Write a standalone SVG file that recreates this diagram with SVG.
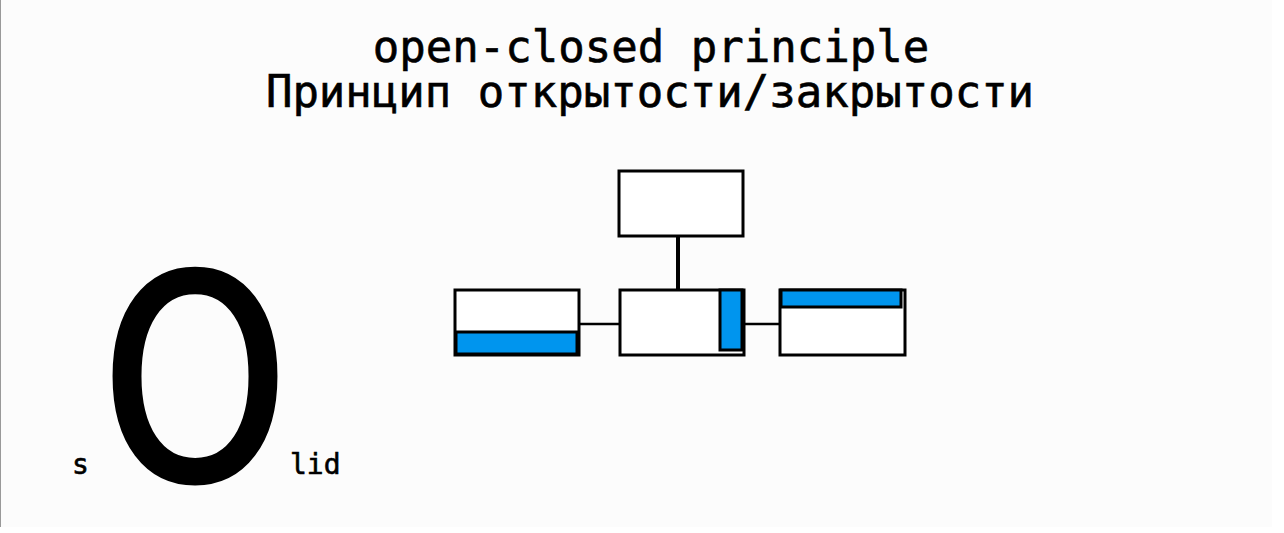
<svg xmlns="http://www.w3.org/2000/svg" width="1284" height="533" viewBox="0 0 1284 533">
<style>
.t{font-family:"DejaVu Sans Mono","Liberation Mono",monospace;fill:#000;stroke:#000;stroke-width:0.6}
.box{fill:#fff;stroke:#000;stroke-width:3}
.blue{fill:#0095ee;stroke:#000;stroke-width:3}
.con{stroke:#000;fill:none}
</style>
<rect x="0" y="0" width="1284" height="533" fill="#fff"/>
<rect x="0" y="0" width="1272" height="527" fill="#fcfcfc"/>
<line x1="0.5" y1="0" x2="0.5" y2="527" stroke="#999" stroke-width="1"/>
<g id="title">
<text class="t" x="651" y="62" font-size="44" text-anchor="middle">open-closed principle</text>
<text class="t" x="650" y="107" font-size="44" text-anchor="middle">Принцип открытости/закрытости</text>
</g>
<g id="solid">
<text class="t" x="72" y="474" font-size="28">s</text>
<text transform="translate(195,479) scale(0.83,0.985)" font-family="DejaVu Sans,sans-serif" font-size="287" text-anchor="middle" stroke="#000" stroke-width="5">O</text>
<text class="t" x="290" y="474" font-size="28">lid</text>
</g>
<g id="connectors">
<line class="con" x1="678" y1="237" x2="678" y2="289" stroke-width="4"/>
<line class="con" x1="580" y1="324" x2="620" y2="324" stroke-width="2.5"/>
<line class="con" x1="745" y1="324" x2="780" y2="324" stroke-width="2.5"/>
</g>
<g id="top">
<rect class="box" x="619" y="171" width="124" height="65"/>
</g>
<g id="left">
<rect class="box" x="455" y="290" width="124" height="65"/>
<rect class="blue" x="456" y="332" width="121" height="22"/>
</g>
<g id="middle">
<rect class="box" x="620" y="290" width="124" height="65"/>
<rect class="blue" x="720" y="290" width="22" height="60"/>
</g>
<g id="right">
<rect class="box" x="780" y="290" width="125" height="65"/>
<rect class="blue" x="781" y="290" width="120" height="17"/>
</g>
</svg>
